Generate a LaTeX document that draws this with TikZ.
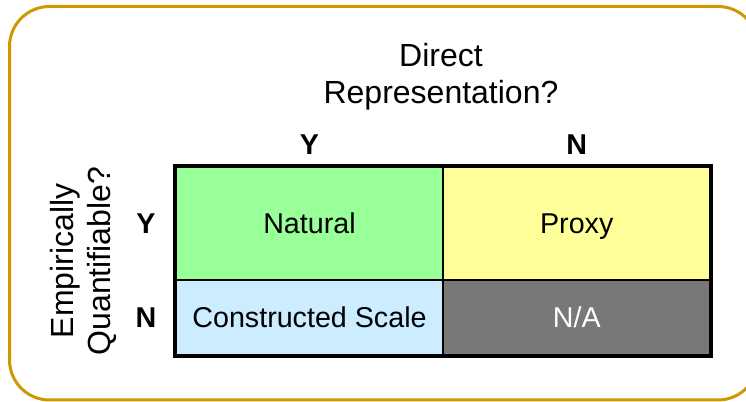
\documentclass[tikz,border=0pt]{standalone}
\usepackage{fontspec}
\setmainfont{Liberation Sans}
\definecolor{framegold}{RGB}{204,153,0}
\definecolor{natgreen}{RGB}{153,255,153}
\definecolor{proxyellow}{RGB}{255,255,153}
\definecolor{scaleblue}{RGB}{204,236,255}
\definecolor{nagray}{RGB}{120,120,120}
\begin{document}
\begin{tikzpicture}[x=0.75pt,y=-0.75pt,
  cell/.style={draw,line width=1pt,minimum width=200.25pt,inner sep=0pt,
    text height=19pt,text depth=3.6pt,font=\fontsize{21.5}{26}\selectfont},
  yn/.style={font=\fontsize{21.5}{26}\selectfont\bfseries},
  head/.style={align=center,font=\fontsize{24}{27.75}\selectfont}]
\useasboundingbox (0,0) rectangle (746,402);
\draw [framegold,line width=2.25pt,rounded corners=30pt] (9.5,6.5) rectangle (758,400);

\node [head] (colhead) at (441,76.5) {Direct\\Representation?};
\node [head,rotate=90] (rowhead) at (83,261) {Empirically\\Quantifiable?};

\node [yn] (colY) at (309.5,145) {Y};
\node [yn] (colN) at (576.75,145) {N};
\node [yn] (rowY) at (146,223.5) {Y};
\node [yn] (rowN) at (146,317.5) {N};

\node [cell,fill=natgreen,minimum height=84.75pt] (natural) at (309.5,223.5) {Natural};
\node [cell,fill=proxyellow,minimum height=84.75pt] (proxy) at (576.75,223.5) {Proxy};
\node [cell,fill=scaleblue,minimum height=56.25pt] (constructed) at (309.5,317.5) {Constructed Scale};
\node [cell,fill=nagray,text=white,minimum height=56.25pt] (notapp) at (576.75,317.5) {N/A};

\draw [line width=3pt] (natural.north west) rectangle (notapp.south east);
\end{tikzpicture}
\end{document}
